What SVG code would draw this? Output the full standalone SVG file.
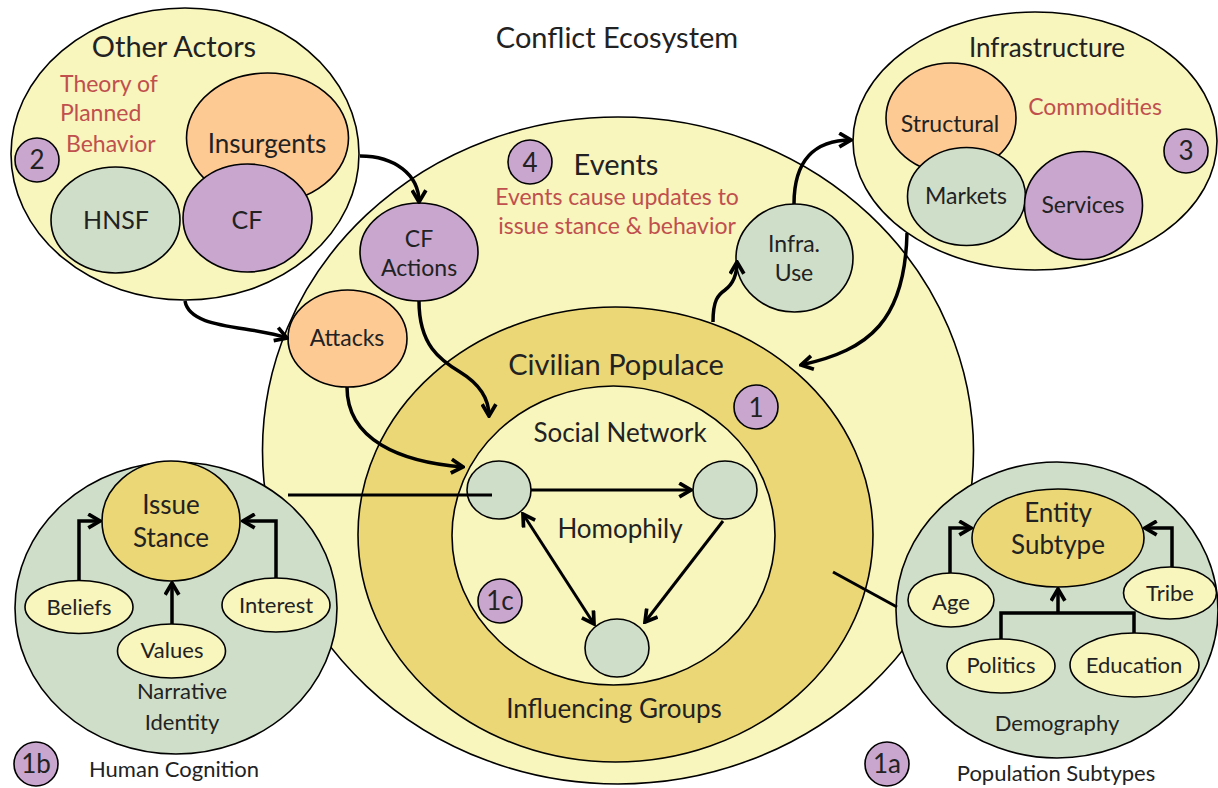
<svg xmlns="http://www.w3.org/2000/svg" width="1218" height="788" viewBox="0 0 1218 788">
<defs>
<style>
.ly{fill:#f8f5bd;stroke:#000;stroke-width:1.6}
.dy{fill:#ebd775;stroke:#000;stroke-width:1.6}
.gr{fill:#cfdec8;stroke:#000;stroke-width:1.6}
.or{fill:#fdca94;stroke:#000;stroke-width:1.6}
.pu{fill:#c8a6ce;stroke:#000;stroke-width:1.6}
text{font-family:Lato,"Liberation Sans",sans-serif;fill:#222;text-anchor:middle}
.t29{font-size:29px}
.t26{font-size:26px}
.t25{font-size:25px}
.t23{font-size:23px}
.t22{font-size:22px}
.red{fill:#c0504d}
.st{text-anchor:start}
.c{fill:none;stroke:#000;stroke-width:3.5}
.c2{fill:none;stroke:#000;stroke-width:3}
</style>
<marker id="ah" viewBox="0 0 16 16" refX="14" refY="8" markerWidth="17" markerHeight="17" markerUnits="userSpaceOnUse" orient="auto-start-reverse">
<path d="M3,1.5 L14,8 L3,14.5" fill="none" stroke="#000" stroke-width="3.5"/>
</marker>
</defs>

<text class="t29" x="617" y="48">Conflict Ecosystem</text>

<g id="events">
<ellipse class="ly" cx="618" cy="450.5" rx="355.5" ry="333.5"/>
<circle class="pu" cx="530" cy="162" r="22"/>
<text class="t26" x="530" y="172">4</text>
<text class="t29" x="616" y="175">Events</text>
<text class="t23 red" x="617" y="205">Events cause updates to</text>
<text class="t23 red" x="617" y="234">issue stance &amp; behavior</text>
</g>

<g id="civilian-populace">
<ellipse class="dy" cx="615.5" cy="534.5" rx="257.5" ry="227.5"/>
<text class="t29" x="616" y="375">Civilian Populace</text>
<text class="t26" x="614" y="718">Influencing Groups</text>
<circle class="pu" cx="756" cy="407" r="22"/>
<text class="t26" x="756" y="417">1</text>
</g>

<g id="social-network">
<ellipse class="ly" cx="613.5" cy="535.5" rx="161.5" ry="149.5"/>
<text class="t26" x="620" y="442">Social Network</text>
<text class="t26" x="620" y="538">Homophily</text>
<circle class="pu" cx="500" cy="601" r="22"/>
<text class="t26" x="500" y="610">1c</text>
</g>

<g id="other-actors">
<ellipse class="ly" cx="185" cy="154" rx="174" ry="146"/>
<text class="t29" x="174" y="57">Other Actors</text>
<text class="t23 red st" x="60" y="92">Theory of</text>
<text class="t23 red st" x="60" y="121">Planned</text>
<text class="t23 red st" x="66" y="152">Behavior</text>
<circle class="pu" cx="37" cy="160" r="22"/>
<text class="t26" x="37" y="169">2</text>
</g>
<g id="insurgents">
<ellipse class="or" cx="267.5" cy="138" rx="81" ry="65"/>
<text class="t26" x="267" y="153">Insurgents</text>
</g>
<g id="hnsf">
<ellipse class="gr" cx="115.5" cy="220" rx="64.5" ry="53"/>
<text class="t25" x="116" y="229">HNSF</text>
</g>
<g id="cf">
<ellipse class="pu" cx="247.5" cy="218" rx="64.5" ry="54"/>
<text class="t25" x="247" y="229">CF</text>
</g>

<g id="infrastructure">
<ellipse class="ly" cx="1035" cy="141" rx="182" ry="129"/>
<text class="t26" x="1047" y="57">Infrastructure</text>
<text class="t23 red" x="1095" y="115">Commodities</text>
<circle class="pu" cx="1186" cy="151" r="22"/>
<text class="t26" x="1186" y="160">3</text>
</g>
<g id="structural">
<ellipse class="or" cx="951" cy="118" rx="65" ry="55"/>
<text class="t23" x="950" y="132">Structural</text>
</g>
<g id="markets">
<ellipse class="gr" cx="966.5" cy="196.5" rx="59" ry="49"/>
<text class="t23" x="966" y="204">Markets</text>
</g>
<g id="services">
<ellipse class="pu" cx="1083.5" cy="205.5" rx="59" ry="54"/>
<text class="t23" x="1083" y="213">Services</text>
</g>

<g id="cf-actions">
<ellipse class="pu" cx="419" cy="252" rx="59" ry="49"/>
<text class="t23" x="419" y="247">CF</text>
<text class="t23" x="419" y="276">Actions</text>
</g>
<g id="attacks">
<ellipse class="or" cx="347.5" cy="338.5" rx="59.5" ry="48.5"/>
<text class="t23" x="347" y="346">Attacks</text>
</g>
<g id="infra-use">
<ellipse class="gr" cx="794.5" cy="258" rx="58.5" ry="54"/>
<text class="t23" x="794" y="252">Infra.</text>
<text class="t23" x="794" y="281">Use</text>
</g>

<g id="node-a"><ellipse class="gr" cx="499" cy="490" rx="32" ry="29"/></g>
<g id="node-b"><ellipse class="gr" cx="725" cy="490" rx="32" ry="29"/></g>
<g id="node-c"><ellipse class="gr" cx="617" cy="648" rx="32" ry="29"/></g>

<g id="human-cognition">
<ellipse class="gr" cx="176" cy="608" rx="161" ry="146"/>
<text class="t22" x="182" y="699">Narrative</text>
<text class="t22" x="182" y="730">Identity</text>
<circle class="pu" cx="36" cy="764" r="22"/>
<text class="t26" x="36" y="773">1b</text>
<text class="t22" x="174" y="777">Human Cognition</text>
</g>
<g id="issue-stance">
<ellipse class="dy" cx="171" cy="521" rx="69" ry="60"/>
<text class="t26" x="171" y="514">Issue</text>
<text class="t26" x="171" y="547">Stance</text>
</g>
<g id="beliefs">
<ellipse class="ly" cx="79" cy="607" rx="54" ry="26.5"/>
<text class="t22" x="79" y="615">Beliefs</text>
</g>
<g id="values">
<ellipse class="ly" cx="171.5" cy="651" rx="54" ry="27"/>
<text class="t22" x="172" y="658">Values</text>
</g>
<g id="interest">
<ellipse class="ly" cx="276" cy="605" rx="54" ry="27"/>
<text class="t22" x="276" y="613">Interest</text>
</g>

<g id="population-subtypes">
<ellipse class="gr" cx="1057" cy="610" rx="161" ry="148"/>
<text class="t22" x="1057" y="731">Demography</text>
<circle class="pu" cx="887" cy="764" r="22"/>
<text class="t26" x="887" y="773">1a</text>
<text class="t22" x="1056" y="781">Population Subtypes</text>
</g>
<g id="entity-subtype">
<ellipse class="dy" cx="1058" cy="538" rx="86" ry="49"/>
<text class="t26" x="1058" y="522">Entity</text>
<text class="t26" x="1058" y="554">Subtype</text>
</g>
<g id="age">
<ellipse class="ly" cx="951" cy="600" rx="43" ry="27"/>
<text class="t22" x="951" y="610">Age</text>
</g>
<g id="tribe">
<ellipse class="ly" cx="1170" cy="593" rx="46.5" ry="26"/>
<text class="t22" x="1170" y="601">Tribe</text>
</g>
<g id="politics">
<ellipse class="ly" cx="1001" cy="666" rx="54" ry="27"/>
<text class="t22" x="1001" y="673">Politics</text>
</g>
<g id="education">
<ellipse class="ly" cx="1134.5" cy="665" rx="64.5" ry="32"/>
<text class="t22" x="1134" y="673">Education</text>
</g>

<g id="connectors">
<path class="c" d="M360 156 C395 156 419 175 419 202" marker-end="url(#ah)"/>
<path class="c" d="M185 301 C190 330 250 325 287 338" marker-end="url(#ah)"/>
<path class="c" d="M419 301 C419 345 440 360 460 372 C478 383 489 398 489 416" marker-end="url(#ah)"/>
<path class="c" d="M347 387 C347 440 400 462 463 467" marker-end="url(#ah)"/>
<path class="c" d="M713 322 C713 300 718 295 725 290 C733 284 737 275 737 262" marker-end="url(#ah)"/>
<path class="c" d="M794 204 C794 160 815 140 851 140" marker-end="url(#ah)"/>
<path class="c" d="M907 233 C905 320 870 350 801 365" marker-end="url(#ah)"/>
<path class="c2" d="M288 495 L492 495"/>
<path class="c2" d="M833 572 L897 607"/>
<path class="c2" d="M531 490 L691 490" marker-end="url(#ah)"/>
<path class="c2" d="M723 521 L645 622" marker-end="url(#ah)"/>
<path class="c2" d="M523 514 L594 624" marker-start="url(#ah)" marker-end="url(#ah)"/>
<path class="c" d="M79 581 L79 521 L100 521" marker-end="url(#ah)"/>
<path class="c" d="M276 578 L276 521 L243 521" marker-end="url(#ah)"/>
<path class="c" d="M172 624 L172 583" marker-end="url(#ah)"/>
<path class="c" d="M950 573 L950 528 L971 528" marker-end="url(#ah)"/>
<path class="c" d="M1172 567 L1172 528 L1145 528" marker-end="url(#ah)"/>
<path class="c" d="M1001 639 L1001 613 L1134 613 L1134 633"/>
<path class="c" d="M1058 613 L1058 589" marker-end="url(#ah)"/>
</g>
</svg>
